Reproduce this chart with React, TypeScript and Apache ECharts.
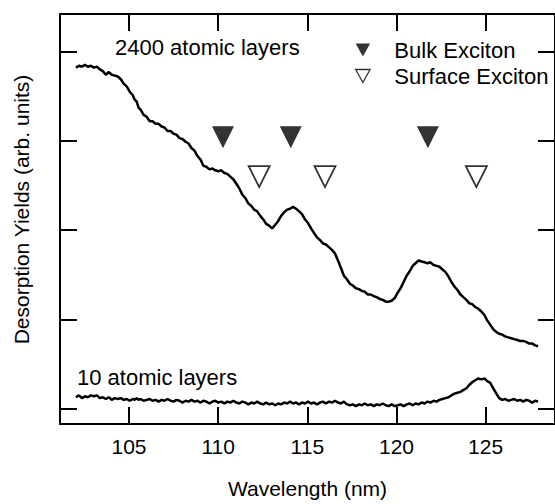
import { useEffect, useRef } from "react";
import * as echarts from "echarts";

// Wavelength (nm) of the sampled points, shared by both spectra
const wavelengths = [
  102.02, 102.19, 102.36, 102.53, 102.69, 102.86, 103.03, 103.2, 103.36, 103.53,
  103.7, 103.87, 104.03, 104.2, 104.37, 104.54, 104.7, 104.87, 105.04, 105.21,
  105.32, 105.43, 105.54, 105.65,
  105.82, 105.99, 106.16, 106.32, 106.49, 106.66, 106.83, 106.99, 107.16, 107.33,
  107.5, 107.66, 107.83, 108.0, 108.17, 108.34, 108.5, 108.67, 108.84, 109.01,
  109.17, 109.34, 109.51, 109.68, 109.84, 110.01, 110.18, 110.35, 110.51, 110.68,
  110.85, 111.02, 111.18, 111.35, 111.52, 111.69, 111.86, 112.02, 112.19, 112.36,
  112.53, 112.69, 112.86, 113.03, 113.2, 113.36, 113.53, 113.7, 113.87, 114.03,
  114.2, 114.37, 114.54, 114.7, 114.87, 115.04, 115.21, 115.37, 115.54, 115.71,
  115.88, 116.04, 116.21, 116.38, 116.55, 116.72, 116.88, 117.05, 117.22, 117.39,
  117.55, 117.72, 117.89, 118.06, 118.22, 118.39, 118.56, 118.73, 118.89, 119.06,
  119.23, 119.4, 119.56, 119.73, 119.9, 120.07, 120.23, 120.4, 120.57, 120.74,
  120.91, 121.07, 121.24, 121.41, 121.58, 121.74, 121.91, 122.08, 122.25, 122.41,
  122.58, 122.75, 122.92, 123.08, 123.25, 123.42, 123.59, 123.75, 123.92, 124.09,
  124.26, 124.42, 124.59, 124.76, 124.93, 125.09, 125.26, 125.43, 125.6, 125.76,
  125.93, 126.1, 126.27, 126.44, 126.6, 126.77, 126.94, 127.11, 127.27, 127.44,
  127.61, 127.78, 127.94,
];

// Desorption yield (arb. units), 2400 atomic layers
const yield2400 = [
  3.82, 3.84, 3.83, 3.85, 3.83, 3.84, 3.82, 3.83, 3.8, 3.78,
  3.74, 3.77, 3.74, 3.73, 3.72, 3.69, 3.64, 3.61, 3.55, 3.51,
  3.46, 3.44, 3.37, 3.35,
  3.29, 3.27, 3.22, 3.22, 3.19, 3.19, 3.16, 3.15, 3.11, 3.11,
  3.08, 3.07, 3.03, 3.02, 2.99, 2.97, 2.92, 2.89, 2.83, 2.79,
  2.72, 2.71, 2.68, 2.69, 2.67, 2.66, 2.67, 2.64, 2.63, 2.6,
  2.57, 2.52, 2.47, 2.4, 2.36, 2.3, 2.27, 2.23, 2.21, 2.16,
  2.12, 2.07, 2.05, 2.02, 2.06, 2.1, 2.16, 2.2, 2.23, 2.24,
  2.26, 2.24, 2.21, 2.18, 2.12, 2.08, 2.02, 1.97, 1.92, 1.89,
  1.85, 1.84, 1.81, 1.78, 1.74, 1.66, 1.58, 1.49, 1.45, 1.4,
  1.38, 1.35, 1.34, 1.32, 1.31, 1.28, 1.28, 1.26, 1.25, 1.23,
  1.22, 1.2, 1.2, 1.21, 1.24, 1.3, 1.35, 1.42, 1.49, 1.54,
  1.6, 1.63, 1.66, 1.65, 1.64, 1.63, 1.64, 1.61, 1.6, 1.59,
  1.56, 1.53, 1.48, 1.42, 1.37, 1.33, 1.28, 1.25, 1.22, 1.18,
  1.17, 1.14, 1.12, 1.09, 1.05, 0.99, 0.94, 0.89, 0.86, 0.84,
  0.83, 0.81, 0.8, 0.79, 0.78, 0.77, 0.76, 0.76, 0.75, 0.73,
  0.73, 0.71, 0.7,
];

// Desorption yield (arb. units), 10 atomic layers
const yield10 = [
  0.13, 0.15, 0.12, 0.14, 0.13, 0.15, 0.14, 0.15, 0.12, 0.13,
  0.11, 0.13, 0.1, 0.12, 0.11, 0.12, 0.1, 0.11, 0.09, 0.11,
  0.1, 0.12, 0.1, 0.11,
  0.09, 0.1, 0.11, 0.09, 0.1, 0.08, 0.1, 0.09, 0.11, 0.09,
  0.08, 0.1, 0.09, 0.07, 0.09, 0.08, 0.1, 0.08, 0.09, 0.07,
  0.09, 0.08, 0.06, 0.08, 0.09, 0.07, 0.08, 0.06, 0.08, 0.07,
  0.09, 0.07, 0.06, 0.08, 0.07, 0.05, 0.07, 0.06, 0.08, 0.06,
  0.05, 0.07, 0.05, 0.06, 0.04, 0.06, 0.05, 0.07, 0.06, 0.08,
  0.06, 0.07, 0.05, 0.07, 0.06, 0.08, 0.06, 0.07, 0.05, 0.07,
  0.08, 0.06, 0.08, 0.07, 0.09, 0.07, 0.06, 0.08, 0.05, 0.04,
  0.05, 0.03, 0.05, 0.04, 0.06, 0.04, 0.05, 0.03, 0.05, 0.04,
  0.06, 0.04, 0.03, 0.05, 0.03, 0.04, 0.05, 0.03, 0.05, 0.06,
  0.04, 0.06, 0.05, 0.07, 0.06, 0.08, 0.07, 0.09, 0.08, 0.1,
  0.11, 0.12, 0.13, 0.15, 0.17, 0.18, 0.19, 0.21, 0.23, 0.27,
  0.3, 0.32, 0.34, 0.33, 0.34, 0.31, 0.29, 0.23, 0.17, 0.12,
  0.1, 0.11, 0.09, 0.1, 0.11, 0.09, 0.1, 0.08, 0.1, 0.09,
  0.07, 0.09, 0.08,
];

// Exciton markers
const bulkExcitonNm = [110.27, 114.07, 121.76];
const bulkExcitonLevel = [3.04, 3.04, 3.04];
const surfaceExcitonNm = [112.3, 115.99, 124.48];
const surfaceExcitonLevel = [2.6, 2.6, 2.6];

const xTickValues = [105, 110, 115, 120, 125];
const yTickValues = [0, 1, 2, 3, 4];

const FONT = "Liberation Sans";
const DOWN_TRIANGLE = "path://M0,0L10,0L5,9Z";

export default function App() {
  const ref = useRef<HTMLDivElement>(null);

  useEffect(() => {
    if (!ref.current) return;
    const chart = echarts.init(ref.current, null, { renderer: "svg" });

    const xMin = 101.13;
    const xMax = 128.89;
    const yMin = -0.17;
    const yMax = 4.42;

    const lineStyle = { color: "#000", width: 2 };
    const tick = {
      show: true,
      inside: true,
      length: 17,
      lineStyle: { color: "#000", width: 2 },
      customValues: [] as number[],
    };

    chart.setOption({
      animation: false,
      backgroundColor: "#fff",
      textStyle: { fontFamily: FONT },
      grid: { left: 60, top: 14, right: -2, bottom: 79 },
      legend: {
        orient: "vertical",
        left: 355,
        top: 38,
        padding: 0,
        itemWidth: 15,
        itemHeight: 13,
        itemGap: 2,
        selectedMode: false,
        textStyle: {
          fontFamily: FONT,
          fontSize: 22,
          color: "#000",
          lineHeight: 24,
          padding: [0, 0, 0, 19],
        },
        data: [
          {
            name: "Bulk Exciton",
            icon: DOWN_TRIANGLE,
            itemStyle: { color: "#000", borderWidth: 0 },
          },
          {
            name: "Surface Exciton",
            icon: DOWN_TRIANGLE,
            itemStyle: { color: "#fff", borderColor: "#000", borderWidth: 1.3 },
          },
        ],
      },
      xAxis: [
        {
          type: "value",
          position: "bottom",
          min: xMin,
          max: xMax,
          name: "Wavelength (nm)",
          nameLocation: "middle",
          nameGap: 54,
          nameTextStyle: { fontFamily: FONT, fontSize: 21, color: "#000" },
          axisLine: { show: true, onZero: false, lineStyle },
          axisTick: { ...tick, customValues: xTickValues },
          axisLabel: {
            show: true,
            customValues: xTickValues,
            margin: 12,
            fontFamily: FONT,
            fontSize: 21,
            color: "#000",
          },
          splitLine: { show: false },
        },
        {
          type: "value",
          position: "top",
          min: xMin,
          max: xMax,
          axisLine: { show: true, onZero: false, lineStyle },
          axisTick: { ...tick, customValues: xTickValues },
          axisLabel: { show: false },
          splitLine: { show: false },
        },
      ],
      yAxis: [
        {
          type: "value",
          position: "left",
          min: yMin,
          max: yMax,
          name: "Desorption Yields (arb. units)",
          nameLocation: "middle",
          nameGap: 28,
          nameRotate: 90,
          nameTextStyle: {
            fontFamily: FONT,
            fontSize: 21,
            color: "#000",
            padding: [0, 0, 0, 19],
          },
          axisLine: { show: true, onZero: false, lineStyle },
          axisTick: { ...tick, customValues: yTickValues },
          axisLabel: { show: false },
          splitLine: { show: false },
        },
        {
          type: "value",
          position: "right",
          min: yMin,
          max: yMax,
          axisLine: { show: true, onZero: false, lineStyle },
          axisTick: { ...tick, customValues: yTickValues },
          axisLabel: { show: false },
          splitLine: { show: false },
        },
      ],
      graphic: [
        {
          type: "text",
          left: 115,
          top: 36,
          style: {
            text: "2400 atomic layers",
            fontFamily: FONT,
            fontSize: 22,
            fill: "#000",
          },
        },
        {
          type: "text",
          left: 77,
          top: 366,
          style: {
            text: "10 atomic layers",
            fontFamily: FONT,
            fontSize: 22,
            fill: "#000",
          },
        },
      ],
      series: [
        {
          name: "2400 atomic layers",
          type: "line",
          data: wavelengths.map((w, i) => [w, yield2400[i]]),
          showSymbol: false,
          lineStyle: { color: "#000", width: 2.5 },
          z: 3,
        },
        {
          name: "10 atomic layers",
          type: "line",
          data: wavelengths.map((w, i) => [w, yield10[i]]),
          showSymbol: false,
          lineStyle: { color: "#000", width: 2.5 },
          z: 3,
        },
        {
          name: "Bulk Exciton",
          type: "scatter",
          data: bulkExcitonNm.map((w, i) => [w, bulkExcitonLevel[i]]),
          symbol: "triangle",
          symbolRotate: 180,
          symbolSize: [22, 22],
          itemStyle: { color: "#000" },
          z: 4,
        },
        {
          name: "Surface Exciton",
          type: "scatter",
          data: surfaceExcitonNm.map((w, i) => [w, surfaceExcitonLevel[i]]),
          symbol: "triangle",
          symbolRotate: 180,
          symbolSize: [21, 21],
          itemStyle: { color: "#fff", borderColor: "#000", borderWidth: 1.8 },
          z: 4,
        },
      ],
    });

    return () => chart.dispose();
  }, []);

  return (
    <div
      ref={ref}
      style={{ position: "absolute", left: 0, top: 0, width: 555, height: 504 }}
    />
  );
}
